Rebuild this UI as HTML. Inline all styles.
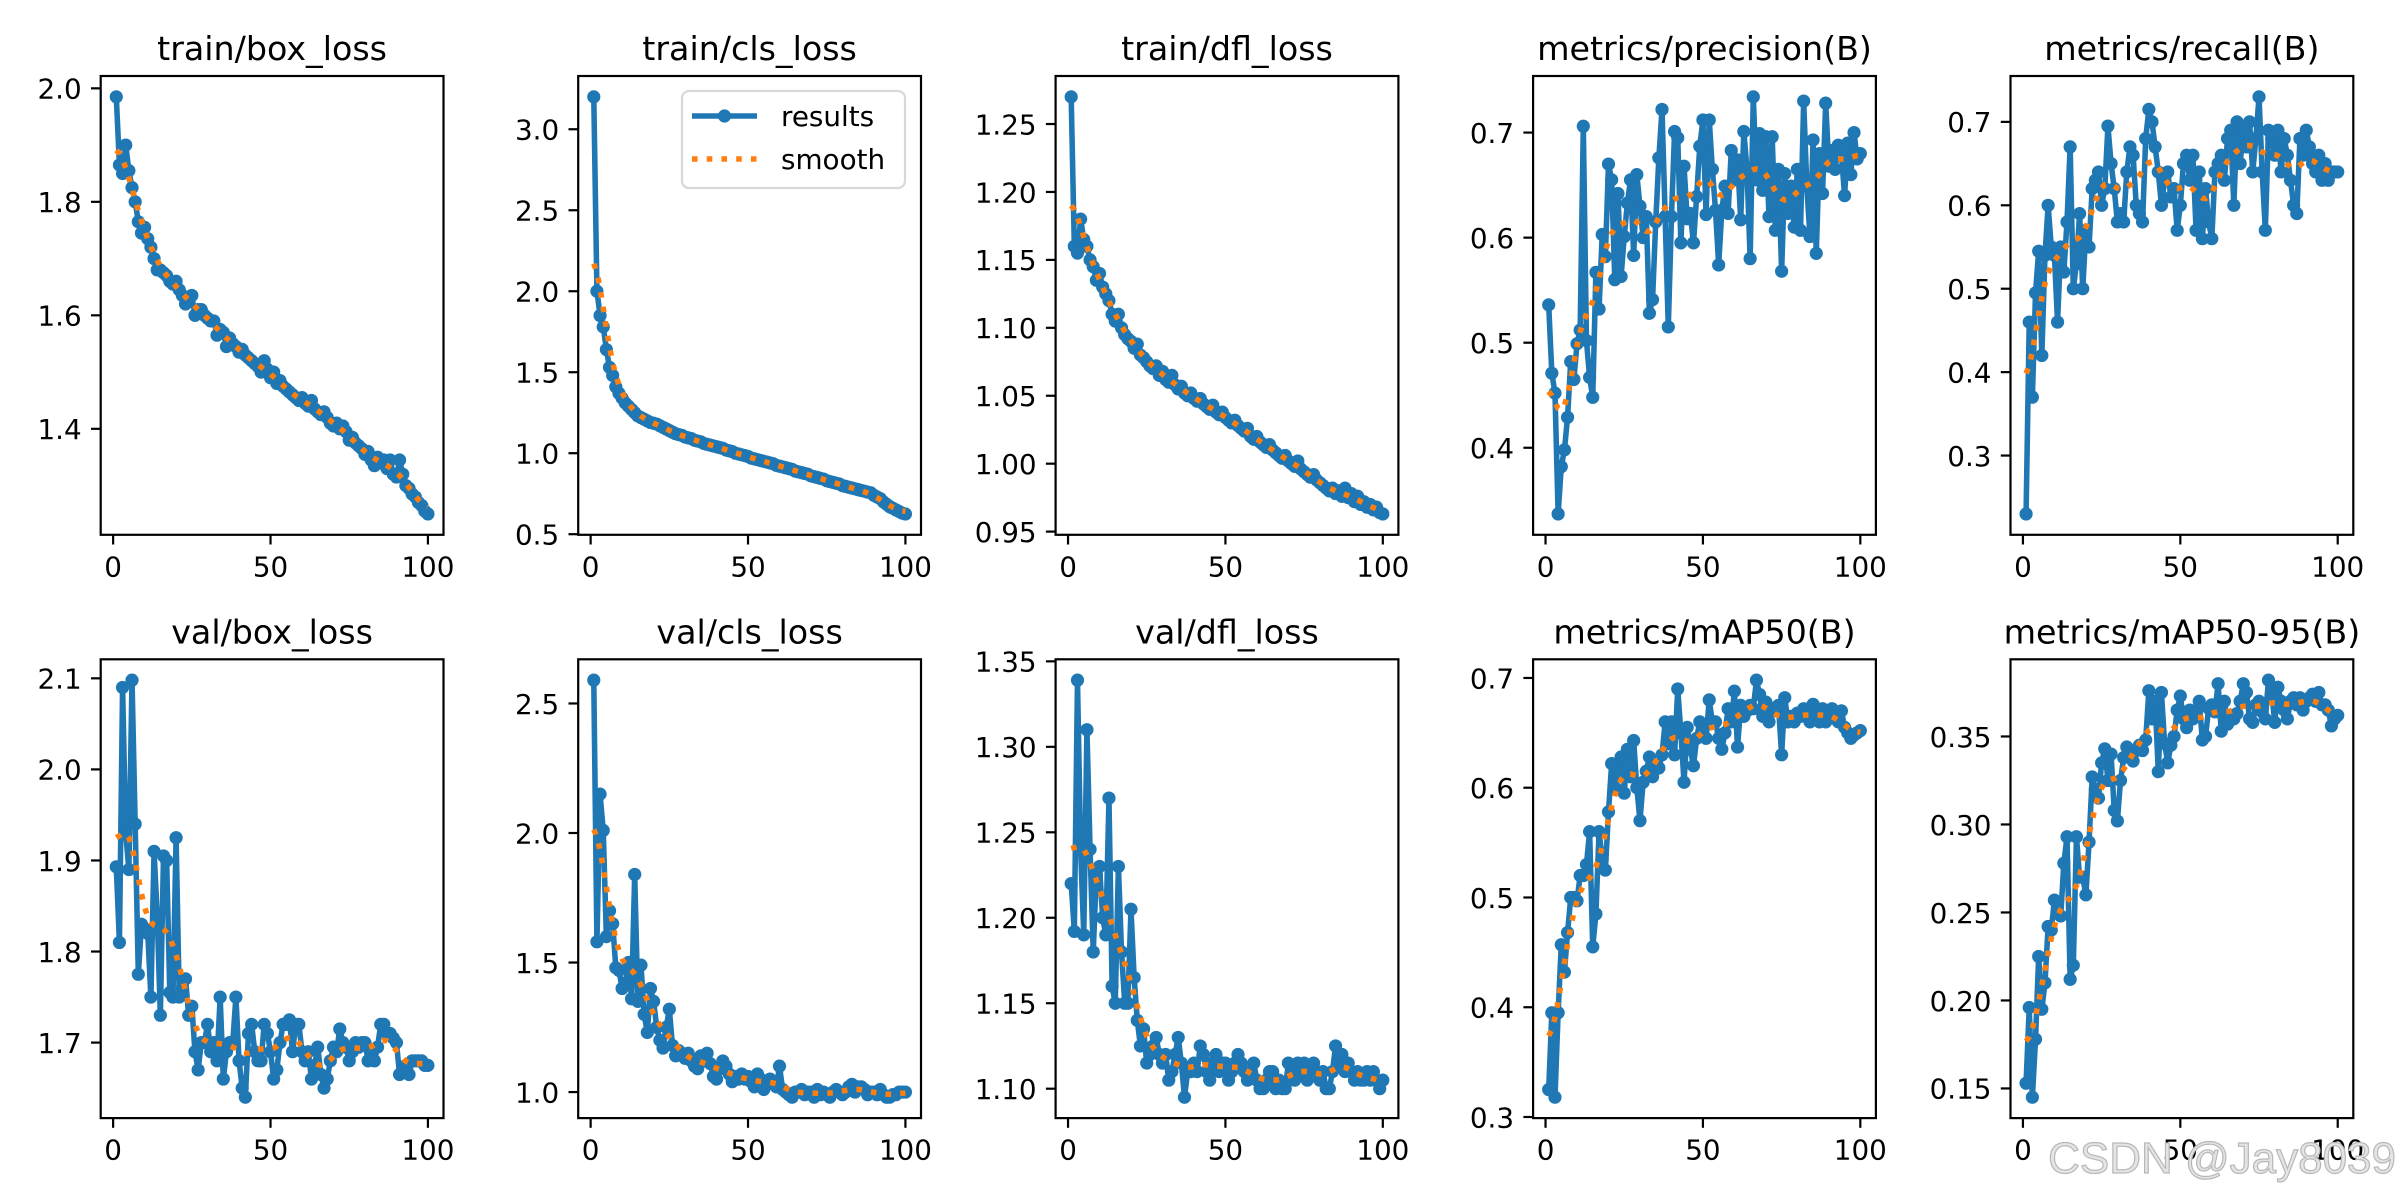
<!DOCTYPE html>
<html><head><meta charset="utf-8"><style>
html,body{margin:0;padding:0;background:#fff;}
svg{display:block;font-family:"DejaVu Sans","Liberation Sans",sans-serif;}
</style></head><body>
<svg id="fig" xmlns="http://www.w3.org/2000/svg" width="2400" height="1200" viewBox="0 0 2400 1200">
<rect x="0" y="0" width="2400" height="1200" fill="#fff"/>
</svg>
<script>
const titles = ["train/box_loss","train/cls_loss","train/dfl_loss","metrics/precision(B)","metrics/recall(B)","val/box_loss","val/cls_loss","val/dfl_loss","metrics/mAP50(B)","metrics/mAP50-95(B)"];
const trainBoxLoss = [1.985,1.865,1.85,1.90,1.855,1.825,1.80,1.765,1.745,1.755,1.735,1.72,1.70,1.68,1.68,1.675,1.67,1.66,1.655,1.66,1.645,1.635,1.62,1.63,1.635,1.60,1.61,1.61,1.60,1.595,1.59,1.59,1.565,1.575,1.57,1.545,1.56,1.55,1.545,1.535,1.54,1.53,1.525,1.52,1.515,1.51,1.50,1.52,1.505,1.49,1.50,1.48,1.485,1.475,1.47,1.465,1.46,1.455,1.45,1.455,1.445,1.44,1.45,1.435,1.43,1.425,1.43,1.42,1.41,1.405,1.41,1.40,1.405,1.395,1.38,1.385,1.375,1.37,1.365,1.355,1.36,1.345,1.335,1.35,1.34,1.345,1.33,1.345,1.32,1.315,1.345,1.32,1.30,1.295,1.285,1.28,1.27,1.265,1.255,1.25];
const trainClsLoss = [3.20,2.00,1.85,1.78,1.64,1.53,1.48,1.41,1.37,1.34,1.31,1.29,1.27,1.25,1.23,1.22,1.21,1.20,1.19,1.185,1.18,1.17,1.16,1.15,1.14,1.13,1.12,1.115,1.11,1.10,1.095,1.09,1.08,1.075,1.07,1.06,1.055,1.05,1.045,1.04,1.035,1.03,1.02,1.015,1.01,1.0,0.995,0.99,0.985,0.98,0.97,0.965,0.96,0.955,0.95,0.945,0.94,0.935,0.925,0.92,0.915,0.91,0.905,0.90,0.89,0.885,0.88,0.875,0.87,0.86,0.855,0.85,0.845,0.84,0.83,0.825,0.82,0.815,0.81,0.80,0.795,0.79,0.785,0.78,0.775,0.77,0.765,0.76,0.755,0.74,0.73,0.72,0.70,0.685,0.67,0.66,0.65,0.64,0.63,0.625];
const trainDflLoss = [1.270,1.160,1.155,1.180,1.165,1.160,1.150,1.145,1.135,1.140,1.130,1.125,1.120,1.110,1.105,1.110,1.100,1.095,1.092,1.090,1.085,1.088,1.080,1.078,1.075,1.072,1.070,1.072,1.065,1.068,1.062,1.060,1.065,1.058,1.055,1.057,1.052,1.050,1.052,1.048,1.046,1.048,1.044,1.042,1.040,1.043,1.038,1.036,1.038,1.034,1.032,1.030,1.032,1.028,1.026,1.024,1.026,1.020,1.018,1.020,1.016,1.014,1.012,1.014,1.010,1.008,1.006,1.004,1.006,1.002,1.000,0.998,1.002,0.996,0.994,0.992,0.990,0.992,0.988,0.986,0.984,0.982,0.980,0.982,0.978,0.980,0.976,0.982,0.975,0.978,0.972,0.976,0.970,0.972,0.968,0.970,0.966,0.968,0.964,0.963];
const precision = [.536,.471,.452,.337,.382,.398,.429,.482,.465,.499,.512,.706,.502,.467,.448,.567,.532,.603,.582,.670,.655,.560,.642,.563,.601,.633,.655,.583,.660,.630,.600,.620,.528,.541,.615,.676,.722,.620,.515,.620,.701,.695,.595,.668,.618,.623,.595,.639,.687,.712,.622,.712,.665,.626,.574,.626,.649,.623,.683,.655,.674,.617,.701,.665,.580,.734,.655,.699,.645,.696,.620,.696,.607,.665,.568,.661,.623,.649,.610,.665,.607,.730,.649,.601,.693,.585,.680,.642,.728,.668,.683,.665,.688,.679,.640,.690,.660,.700,.675,.680];
const recall = [.23,.46,.37,.495,.545,.42,.54,.60,.55,.54,.46,.55,.52,.58,.67,.50,.53,.59,.50,.57,.55,.62,.63,.64,.60,.62,.695,.65,.62,.58,.59,.58,.64,.67,.66,.60,.59,.58,.68,.715,.70,.67,.64,.60,.63,.64,.61,.62,.57,.60,.65,.66,.63,.66,.57,.64,.56,.62,.58,.56,.64,.65,.66,.63,.68,.69,.60,.70,.65,.69,.67,.70,.64,.68,.73,.64,.57,.69,.68,.66,.69,.64,.68,.66,.63,.60,.59,.68,.66,.69,.67,.65,.64,.66,.63,.65,.63,.64,.64,.64];
const valBoxLoss = [1.893,1.81,2.09,1.93,1.89,2.098,1.94,1.775,1.83,1.825,1.82,1.75,1.91,1.84,1.73,1.905,1.90,1.755,1.75,1.925,1.75,1.76,1.77,1.73,1.74,1.69,1.67,1.70,1.70,1.72,1.69,1.70,1.68,1.75,1.66,1.69,1.70,1.70,1.75,1.68,1.65,1.64,1.71,1.72,1.69,1.68,1.68,1.72,1.71,1.69,1.66,1.67,1.70,1.72,1.72,1.725,1.69,1.72,1.72,1.69,1.68,1.69,1.66,1.675,1.695,1.665,1.65,1.66,1.68,1.695,1.69,1.715,1.70,1.695,1.68,1.69,1.70,1.695,1.70,1.70,1.68,1.69,1.68,1.695,1.72,1.72,1.71,1.71,1.705,1.70,1.665,1.67,1.675,1.665,1.68,1.68,1.68,1.68,1.675,1.675];
const valClsLoss = [2.59,1.58,2.15,2.01,1.60,1.70,1.65,1.48,1.47,1.40,1.42,1.50,1.36,1.84,1.35,1.49,1.30,1.23,1.40,1.35,1.25,1.20,1.17,1.25,1.32,1.18,1.14,1.16,1.15,1.13,1.15,1.12,1.10,1.09,1.14,1.12,1.15,1.11,1.06,1.05,1.09,1.12,1.10,1.07,1.04,1.06,1.05,1.07,1.05,1.06,1.04,1.02,1.07,1.05,1.01,1.03,1.05,1.04,1.02,1.10,1.01,1.00,0.99,0.98,1.00,1.00,1.01,0.99,1.00,1.00,0.98,1.01,0.99,1.00,0.99,0.98,1.00,1.01,1.00,0.99,1.00,1.02,1.03,1.00,1.02,1.02,1.01,0.99,1.00,1.00,0.99,1.01,0.99,0.98,0.98,0.99,0.99,1.00,1.00,1.00];
const valDflLoss = [1.22,1.192,1.339,1.24,1.19,1.31,1.24,1.18,1.225,1.23,1.20,1.19,1.27,1.16,1.15,1.23,1.18,1.15,1.15,1.205,1.165,1.14,1.125,1.135,1.115,1.12,1.125,1.13,1.12,1.115,1.12,1.105,1.11,1.12,1.13,1.115,1.095,1.11,1.11,1.115,1.11,1.125,1.12,1.11,1.105,1.115,1.12,1.11,1.115,1.115,1.105,1.11,1.115,1.12,1.115,1.11,1.105,1.11,1.115,1.105,1.10,1.10,1.105,1.11,1.11,1.10,1.105,1.10,1.10,1.115,1.11,1.105,1.115,1.11,1.115,1.105,1.11,1.115,1.11,1.105,1.11,1.10,1.10,1.11,1.125,1.115,1.12,1.11,1.115,1.11,1.105,1.11,1.105,1.105,1.11,1.105,1.11,1.105,1.10,1.105];
const map50 = [.325,.395,.318,.395,.457,.432,.468,.500,.500,.497,.520,.520,.530,.560,.455,.485,.560,.535,.525,.578,.622,.600,.615,.628,.595,.635,.610,.643,.600,.570,.605,.615,.628,.610,.620,.618,.630,.660,.640,.660,.630,.690,.650,.605,.655,.635,.620,.645,.660,.650,.645,.680,.660,.660,.645,.635,.650,.672,.660,.688,.637,.675,.665,.670,.675,.672,.698,.685,.665,.678,.660,.672,.670,.675,.630,.682,.660,.665,.660,.668,.665,.672,.665,.660,.676,.665,.660,.672,.660,.668,.672,.665,.660,.670,.655,.650,.645,.648,.650,.652];
const map5095 = [.153,.196,.145,.178,.225,.195,.210,.242,.240,.257,.250,.248,.278,.293,.212,.220,.293,.270,.270,.260,.290,.327,.320,.315,.335,.343,.325,.340,.308,.302,.325,.338,.344,.340,.336,.342,.345,.342,.348,.376,.360,.370,.330,.375,.346,.335,.345,.350,.365,.373,.360,.355,.365,.360,.362,.370,.348,.350,.366,.368,.364,.380,.353,.370,.357,.362,.360,.363,.370,.380,.375,.360,.358,.368,.370,.364,.360,.382,.375,.358,.378,.370,.365,.360,.370,.372,.368,.372,.365,.370,.372,.374,.370,.375,.368,.368,.365,.356,.360,.362];
const yTickValues = [[1.4,1.6,1.8,2.0],[0.5,1.0,1.5,2.0,2.5,3.0],[0.95,1.00,1.05,1.10,1.15,1.20,1.25],[0.4,0.5,0.6,0.7],[0.3,0.4,0.5,0.6,0.7],[1.7,1.8,1.9,2.0,2.1],[1.0,1.5,2.0,2.5],[1.10,1.15,1.20,1.25,1.30,1.35],[0.3,0.4,0.5,0.6,0.7],[0.15,0.20,0.25,0.30,0.35]];
const yTickLabels = [["1.4","1.6","1.8","2.0"],["0.5","1.0","1.5","2.0","2.5","3.0"],["0.95","1.00","1.05","1.10","1.15","1.20","1.25"],["0.4","0.5","0.6","0.7"],["0.3","0.4","0.5","0.6","0.7"],["1.7","1.8","1.9","2.0","2.1"],["1.0","1.5","2.0","2.5"],["1.10","1.15","1.20","1.25","1.30","1.35"],["0.3","0.4","0.5","0.6","0.7"],["0.15","0.20","0.25","0.30","0.35"]];
const xTickValues = [0,50,100];
const xTickLabels = ["0","50","100"];
const allSeries = [trainBoxLoss,trainClsLoss,trainDflLoss,precision,recall,valBoxLoss,valClsLoss,valDflLoss,map50,map5095];

const NS = "http://www.w3.org/2000/svg";
const svg = document.getElementById('fig');
function mk(tag, attrs, parent){ const e=document.createElementNS(NS,tag); for(const k in attrs) e.setAttribute(k,attrs[k]); (parent||svg).appendChild(e); return e; }
function gauss(y, sigma){
  const r=Math.round(4*sigma), w=[]; let s=0;
  for(let k=-r;k<=r;k++){const v=Math.exp(-0.5*k*k/(sigma*sigma)); w.push(v); s+=v;}
  const n=y.length, out=[];
  const idx=i=>{ while(i<0||i>=n){ if(i<0) i=-i-1; if(i>=n) i=2*n-i-1; } return i; };
  for(let i=0;i<n;i++){ let a=0; for(let k=-r;k<=r;k++) a+=w[k+r]*y[idx(i+k)]; out.push(a/s); }
  return out;
}
const AX_W=342.8, AX_H=458.8;
const lefts=[100.7,578.2,1055.6,1533.1,2010.5], tops=[76,659.3];
const slugs=["train-box-loss","train-cls-loss","train-dfl-loss","precision","recall","val-box-loss","val-cls-loss","val-dfl-loss","map50","map50-95"];
allSeries.forEach((ys,p)=>{
  const L=lefts[p%5], T=tops[Math.floor(p/5)], B=T+AX_H, R=L+AX_W;
  const n=ys.length, xs=ys.map((_,i)=>i+1);
  const sm=gauss(ys,3);
  let mn=Math.min(...ys,...sm), mx=Math.max(...ys,...sm);
  const ymin=mn-0.05*(mx-mn), ymax=mx+0.05*(mx-mn);
  const xmin=1-0.05*(n-1), xmax=n+0.05*(n-1);
  const sx=v=>L+(v-xmin)/(xmax-xmin)*AX_W;
  const sy=v=>B-(v-ymin)/(ymax-ymin)*AX_H;
  const g=mk('g',{});
  
  
  const cp=mk('clipPath',{id:'cp'+p},g); mk('rect',{x:L,y:T,width:AX_W,height:AX_H},cp);
  const t=mk('text',{x:L+AX_W/2,y:T-16,'text-anchor':'middle','font-size':33.3,fill:'#000'},g); t.textContent=titles[p];
  
  
  const pts=xs.map((x,i)=>sx(x).toFixed(2)+','+sy(ys[i]).toFixed(2)).join(' ');
  const pg=mk('g',{'clip-path':'url(#cp'+p+')'},g);
  const line=mk('polyline',{points:pts,fill:'none',stroke:'#1f77b4','stroke-width':5.56,'stroke-linejoin':'round','stroke-linecap':'square'},pg);
  
  
  xs.forEach((x,i)=>{ const c=mk('circle',{cx:sx(x),cy:sy(ys[i]),r:6.6,fill:'#1f77b4'},pg);
    
     });
  const spts=xs.map((x,i)=>sx(x).toFixed(2)+','+sy(sm[i]).toFixed(2)).join(' ');
  const sl=mk('polyline',{points:spts,fill:'none',stroke:'#ff7f0e','stroke-width':5.56,'stroke-dasharray':'5.56 9.17'},pg);
  
  
  const fr=mk('rect',{x:L,y:T,width:AX_W,height:AX_H,fill:'none',stroke:'#000','stroke-width':2.2},g);
  
  
  yTickValues[p].forEach((v,i)=>{ const y=sy(v);
    mk('line',{x1:L-9.7,x2:L,y1:y,y2:y,stroke:'#000','stroke-width':2.2},g);
    const tl=mk('text',{x:L-19,y:y+10.3,'text-anchor':'end','font-size':27.8,fill:'#000'},g); tl.textContent=yTickLabels[p][i];
    
     });
  xTickValues.forEach((v,i)=>{ const x=sx(v);
    mk('line',{x1:x,x2:x,y1:B,y2:B+9.7,stroke:'#000','stroke-width':2.2},g);
    const tl=mk('text',{x:x,y:B+41.5,'text-anchor':'middle','font-size':27.8,fill:'#000'},g); tl.textContent=xTickLabels[i];
    
     });
});
</script>
<svg style="position:absolute;left:0;top:0" width="2400" height="1200" xmlns="http://www.w3.org/2000/svg">
<g>
<rect x="682" y="91" width="223" height="97" rx="7" fill="#fff" fill-opacity="0.8" stroke="#d8d8d8" stroke-width="2.2"/>
<line x1="692" y1="116" x2="757" y2="116" stroke="#1f77b4" stroke-width="5.56"/>
<circle cx="724.5" cy="116" r="6.6" fill="#1f77b4"/>
<text x="781" y="126" font-size="27.8" font-family="DejaVu Sans, Liberation Sans, sans-serif">results</text>
<line x1="692" y1="159" x2="757" y2="159" stroke="#ff7f0e" stroke-width="5.56" stroke-dasharray="5.56 9.17"/>
<text x="781" y="169" font-size="27.8" font-family="DejaVu Sans, Liberation Sans, sans-serif">smooth</text>
</g>
<text x="2396" y="1173" text-anchor="end" font-size="44" font-family="Liberation Sans, sans-serif" fill="#e4e4e4" stroke="#b8b8b8" stroke-width="1.2">CSDN @Jay8039</text>
</svg>
</body></html>
